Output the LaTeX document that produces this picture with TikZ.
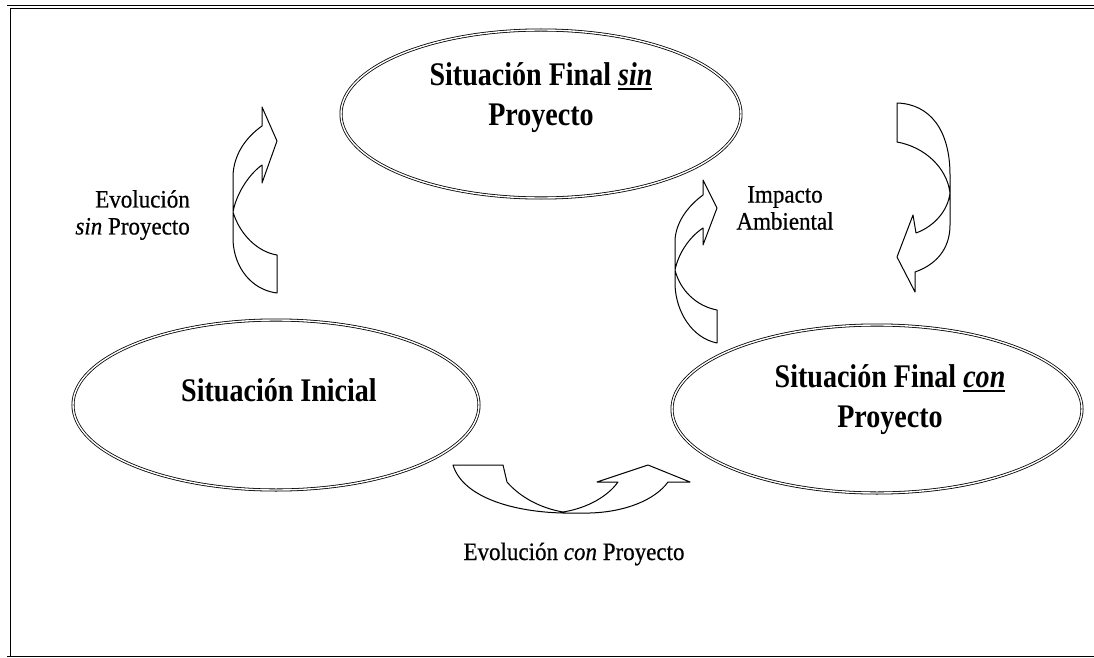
\documentclass[tikz,border=0pt]{standalone}
\usepackage{fontspec}
\setmainfont{Liberation Serif}[FakeStretch=0.92]
\newfontfamily\headfont{Liberation Serif}[FakeStretch=0.85]
\newfontfamily\lblfont{Liberation Serif}[FakeStretch=0.92, FakeBold=0.6]
\newcommand\thickul[1]{\setbox0\hbox{#1}\rlap{\rule[-4.5pt]{\wd0}{2pt}}\box0}
\usetikzlibrary{shapes.geometric}
\tikzset{
  frame/.style={draw=black, line width=0.9pt, double=white, double distance=2.2pt},
  oval/.style={ellipse, draw=black, line width=0.8pt, double=white, double distance=1.4pt, inner sep=0pt},
  blockarrow/.style={draw=black, fill=white, line width=1pt, line join=round},
  maintext/.style={font=\headfont\bfseries\fontsize{33}{40}\selectfont, align=center, inner sep=0pt},
  lbl/.style={font=\lblfont\fontsize{25}{27}\selectfont, inner sep=0pt}
}
\begin{document}
\begin{tikzpicture}[x=1pt, y=-1pt]
\useasboundingbox (0,0) rectangle (1094,658);
\clip (0,0) rectangle (1094,658);
% frame: double on the left and top, single at the bottom
\draw[frame] (1300,7) -- (8.5,7) -- (8.5,656.5);
\draw[line width=1.2pt] (7,656.8) -- (1300,656.8);
% ellipses
\node[oval, minimum width=400pt, minimum height=168pt] (sinP) at (541,114) {};
\node[oval, minimum width=406pt, minimum height=170pt] (ini) at (276,405) {};
\node[oval, minimum width=410pt, minimum height=168pt] (conP) at (877,409) {};
% main texts
\node[maintext] (sinPt) at (541,98) {Situación Final \thickul{\textit{sin}}\\Proyecto};
\node[maintext] (init) at (279,390) {Situación Inicial};
\node[maintext] (conPt) at (890,400) {Situación Final \thickul{\textit{con}}\\Proyecto};
% curved block arrows
\draw[blockarrow] (277,255) .. controls (258,252) and (240,235) .. (233,212)
  .. controls (236,195) and (248,175) .. (262,165) -- (262,183) -- (277,141) -- (262,107) -- (262,126)
  .. controls (245,138) and (234,155) .. (233,175) -- (233,240)
  .. controls (234,268) and (252,290) .. (277,293) -- cycle;
\draw[blockarrow] (897,103) .. controls (930,104) and (950,130) .. (950,175) -- (950,225)
  .. controls (950,250) and (935,265) .. (915,272) -- (915,292) -- (897,257) -- (913,215) -- (916,233)
  .. controls (935,226) and (948,210) .. (950,193)
  .. controls (947,168) and (925,147) .. (897,142) -- cycle;
\draw[blockarrow] (717,343) .. controls (692,338) and (676,312) .. (675,285) -- (675,240)
  .. controls (676,222) and (688,206) .. (703,195) -- (703,180) -- (717,208) -- (703,245) -- (703,228)
  .. controls (688,238) and (678,255) .. (675,270)
  .. controls (680,290) and (696,306) .. (717,310) -- cycle;
\draw[blockarrow] (453,465) -- (503,465) -- (507,482)
  .. controls (520,497) and (540,508) .. (563,512)
  .. controls (588,508) and (608,496) .. (618,482) -- (597,482) -- (648,465) -- (690,482) -- (668,482)
  .. controls (655,500) and (625,512) .. (590,513) -- (563,513)
  .. controls (515,512) and (463,498) .. (453,465) -- cycle;
% labels
\node[lbl, align=right, anchor=east] (lEvo) at (190,215) {Evolución\\\textit{sin} Proyecto};
\node[lbl, align=center] (lImp) at (785,208) {Impacto\\Ambiental};
\node[lbl] (lCon) at (574,554) {Evolución \textit{con} Proyecto};
\end{tikzpicture}
\end{document}
